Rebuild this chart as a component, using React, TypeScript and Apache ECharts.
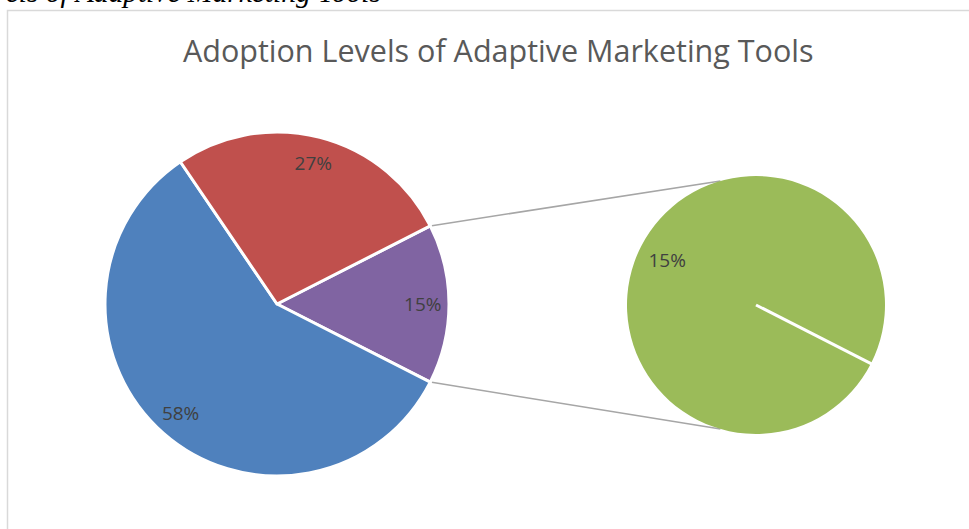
import React, { useEffect, useRef } from "react";
import * as echarts from "echarts";

const mainCategories = ["Other", "High Adoption", "Moderate Adoption"];
const mainValues = [15, 58, 27];
const mainColors = ["#8064a2", "#4f81bd", "#c0504d"];
const subCategories = ["Low Adoption"];
const subValues = [15];
const subColors = ["#9bbb59"];
const titleText = "Adoption Levels of Adaptive Marketing Tools";
const captionText = "Figure 1: Adoption Levels of Adaptive Marketing Tools";

const W = 969;
const H = 529;
const C1 = [277, 304];
const R1 = 172;
const C2 = [756, 305];
const R2 = 129;
const START = 27; // degrees

function pt(c: number[], r: number, deg: number) {
  const a = (deg * Math.PI) / 180;
  return [c[0] + r * Math.cos(a), c[1] - r * Math.sin(a)];
}

export default function App() {
  const ref = useRef<HTMLDivElement>(null);
  useEffect(() => {
    document.body.style.margin = "0";
    if (!ref.current) return;
    const chart = echarts.init(ref.current, null, { renderer: "svg" });
    const mainData = mainCategories.map((n, i) => ({
      name: n,
      value: mainValues[i],
      itemStyle: { color: mainColors[i] },
    }));
    const subData = subCategories.map((n, i) => ({
      name: n,
      value: subValues[i],
      itemStyle: { color: subColors[i] },
    }));
    const labelStyle = {
      show: true,
      position: "inside",
      formatter: "{c}%",
      color: "#404040",
      fontSize: 19,
      fontFamily: "Open Sans",
    };
    const a1 = pt(C1, R1, START);
    const a2 = pt(C1, R1, -START);
    const b1 = pt(C2, R2, 106);
    const b2 = pt(C2, R2, -106);
    const w1 = pt(C2, R2, -START);
    chart.setOption({
      animation: false,
      backgroundColor: "#ffffff",
      title: {
        text: titleText,
        left: 178,
        top: 29,
        textStyle: {
          color: "#595959",
          fontSize: 30.5,
          fontWeight: "normal",
          fontFamily: "Open Sans",
        },
      },
      graphic: [
        {
          type: "text",
          x: 381,
          y: 7,
          style: {
            text: captionText,
            align: "right",
            verticalAlign: "bottom",
            fontSize: 29.5,
            fontStyle: "italic",
            fontFamily: "Liberation Serif",
            fill: "#000000",
          },
          z: 10,
        },
        {
          type: "rect",
          shape: { x: 7.5, y: 10.5, width: 1200, height: 800 },
          style: { fill: "none", stroke: "#d9d9d9", lineWidth: 1.5 },
          silent: true,
        },
        {
          type: "line",
          shape: { x1: a1[0], y1: a1[1], x2: b1[0], y2: b1[1] },
          style: { stroke: "#a6a6a6", lineWidth: 1.5 },
        },
        {
          type: "line",
          shape: { x1: a2[0], y1: a2[1], x2: b2[0], y2: b2[1] },
          style: { stroke: "#a6a6a6", lineWidth: 1.5 },
        },
        {
          type: "line",
          shape: { x1: C2[0], y1: C2[1], x2: w1[0] + 3, y2: w1[1] + 1.5 },
          style: { stroke: "#ffffff", lineWidth: 3 },
          z: 100,
        },
      ],
      series: [
        {
          type: "pie",
          center: C1,
          radius: [0, R1],
          startAngle: START,
          clockwise: true,
          data: mainData,
          label: { show: false },
          labelLine: { show: false },
          itemStyle: { borderColor: "#ffffff", borderWidth: 3 },
          silent: true,
        },
        {
          type: "pie",
          center: C1,
          radius: [R1 * 0.66, R1],
          startAngle: START,
          clockwise: true,
          data: mainData.map((d) => ({ ...d, itemStyle: { color: "rgba(0,0,0,0)" } })),
          label: labelStyle,
          labelLine: { show: false },
          silent: true,
          z: 5,
        },
        {
          type: "pie",
          center: C2,
          radius: [0, R2],
          startAngle: -START,
          clockwise: true,
          data: subData,
          label: { show: false },
          labelLine: { show: false },
          silent: true,
        },
        {
          type: "pie",
          center: C2,
          radius: [R2 * 0.5, R2],
          startAngle: -START,
          clockwise: true,
          data: subData.map((d) => ({ ...d, itemStyle: { color: "rgba(0,0,0,0)" } })),
          label: labelStyle,
          labelLine: { show: false },
          silent: true,
          z: 5,
        },
      ],
    });
    return () => chart.dispose();
  }, []);
  return <div ref={ref} style={{ width: W, height: H }} />;
}
